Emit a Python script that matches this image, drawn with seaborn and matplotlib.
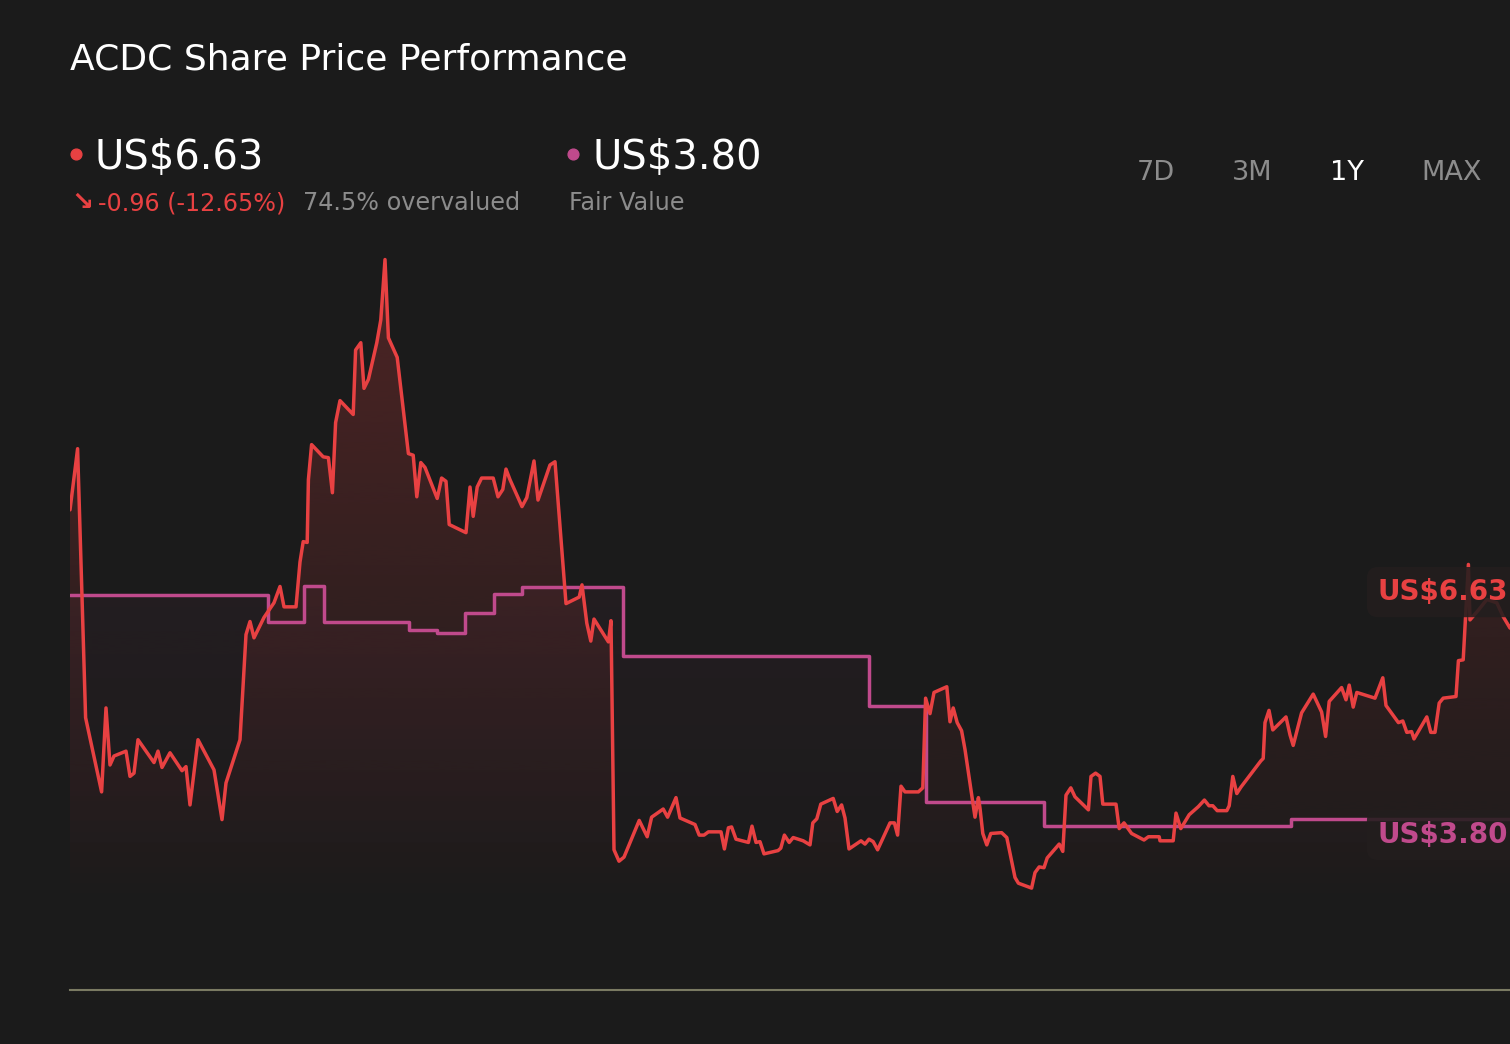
import numpy as np
import pandas as pd
import matplotlib
matplotlib.use('Agg')
import matplotlib.pyplot as plt
from matplotlib.patches import Polygon
import seaborn as sns

# price history (days since start, US$)
price_days = [0, 1.9, 3.9, 7.9, 9, 10, 11, 14, 15, 16, 17, 21, 22, 23, 25, 28, 29, 30, 32, 36,
              38, 39, 42.5, 44, 45, 46, 48.5, 51, 52.5, 53.5, 56.5, 57.5, 58.3, 59.3, 59.6, 60.4,
              63.3, 64.6, 65.6, 66.4, 67.5, 70.8, 71.4, 72.7, 73.5, 74.6, 76.7, 77.7, 78.75, 79.6,
              81.8, 84.6, 85.8, 86.7, 87.7, 88.75, 91.8, 92.9, 94, 94.8, 99, 100, 100.8, 101.8,
              102.9, 105.8, 107, 108.2, 109, 110, 113, 114.2, 116, 117, 120, 121.25, 124, 127.3,
              128, 129.2, 130.2, 131, 134.6, 135.25, 136, 137.25, 138.5, 142.3, 144.3, 145.4,
              148.3, 149.4, 151.5, 152.5, 156.25, 157.3, 158.5, 159.6, 162.75, 163.6, 164.6,
              165.4, 166.5, 169.6, 170.5, 171.5, 172.5, 173.5, 177, 177.7, 178.6, 179.8, 180.8,
              183.3, 185, 185.7, 186.7, 187.7, 190.8, 191.8, 192.9, 193.75, 194.75, 197.75,
              198.75, 199.75, 200.8, 201.9, 205, 206.1, 206.9, 207.75, 208.75, 212.1, 213.2,
              213.9, 215, 216, 219.2, 220, 220.8, 221.8, 222.9, 223.75, 226.25, 227.1, 227.5,
              228.2, 229.2, 230.2, 232.9, 234.2, 236.25, 237.1, 240.4, 241.25, 242.3, 243.5,
              244.3, 247.3, 248.2, 249, 250.2, 251.25, 254.6, 255.25, 256.4, 257.5, 258.2, 261.5,
              262.3, 263.5, 265.4, 268.5, 269.6, 272.3, 272.5, 275.8, 276.5, 277.7, 279.8, 282.1,
              283.6, 284.75, 285.7, 286.8, 289.2, 289.8, 290.7, 291.7, 292.75, 297.7, 298.3,
              298.75, 299.75, 300.7, 304, 305, 305.8, 307.9, 310.8, 312.9, 313.9, 314.8, 317.9,
              319, 319.8, 320.8, 321.7, 326.25, 328.2, 329, 332.1, 333.2, 334.2, 335.4, 336,
              339.2, 340.2, 341.25, 342.3, 343.3, 346.5, 347.1, 348.3, 349.6, 350, 352.1, 354.2,
              356.7, 358.3, 360, 364]
price_vals = [7.59, 8.34, 5.04, 4.13, 5.16, 4.46, 4.57, 4.63, 4.32, 4.36, 4.77, 4.49, 4.63, 4.43,
              4.61, 4.39, 4.44, 3.97, 4.77, 4.40, 3.79, 4.24, 4.77, 6.06, 6.22, 6.02, 6.27, 6.45,
              6.65, 6.40, 6.40, 6.95, 7.20, 7.19, 7.96, 8.39, 8.24, 8.23, 7.80, 8.66, 8.93, 8.76,
              9.55, 9.64, 9.08, 9.19, 9.64, 9.92, 10.66, 9.70, 9.46, 8.28, 8.26, 7.75, 8.17, 8.11,
              7.73, 7.98, 7.94, 7.41, 7.31, 7.87, 7.51, 7.87, 7.98, 7.98, 7.75, 7.84, 8.09, 7.96,
              7.63, 7.74, 8.19, 7.71, 8.14, 8.18, 6.44, 6.52, 6.67, 6.20, 5.98, 6.25, 5.97, 6.23,
              3.42, 3.28, 3.33, 3.78, 3.58, 3.82, 3.92, 3.82, 4.06, 3.81, 3.73, 3.60, 3.60, 3.64,
              3.64, 3.43, 3.69, 3.70, 3.55, 3.51, 3.71, 3.51, 3.52, 3.37, 3.41, 3.44, 3.60, 3.51,
              3.57, 3.53, 3.48, 3.75, 3.80, 3.98, 4.05, 3.89, 3.97, 3.81, 3.43, 3.53, 3.49, 3.55,
              3.52, 3.42, 3.75, 3.75, 3.60, 4.20, 4.13, 4.13, 4.18, 5.28, 5.09, 5.35, 5.42, 4.99,
              5.16, 4.98, 4.88, 4.65, 3.82, 4.06, 3.93, 3.62, 3.48, 3.62, 3.63, 3.57, 3.08, 3.01,
              2.95, 3.14, 3.21, 3.20, 3.32, 3.49, 3.40, 4.09, 4.18, 4.07, 3.91, 4.32, 4.36, 4.32,
              3.98, 3.98, 3.68, 3.75, 3.62, 3.54, 3.58, 3.58, 3.53, 3.53, 3.87, 3.68, 3.85, 3.95,
              4.03, 3.96, 3.96, 3.90, 3.90, 3.96, 4.32, 4.11, 4.19, 4.51, 4.54, 4.98, 5.13, 4.89,
              5.05, 4.83, 4.70, 5.10, 5.33, 5.11, 4.81, 5.24, 5.41, 5.26, 5.44, 5.17, 5.35, 5.28,
              5.53, 5.19, 4.98, 5.00, 4.86, 4.87, 4.78, 5.05, 4.86, 4.86, 5.22, 5.28, 5.30, 5.74,
              5.75, 6.92, 6.24, 6.36, 6.49, 6.45, 6.28, 6.14, 6.63]

# fair value estimate changes
fv_days = [0, 49.6, 58.5, 63.6, 84.8, 91.7, 98.75, 106, 113.1, 138.3, 199.8, 213.9, 243.5, 305.2, 364]
fv_vals = [6.55, 6.22, 6.65, 6.22, 6.11, 6.08, 6.32, 6.56, 6.64, 5.80, 5.18, 4.01, 3.71, 3.80, 3.80]

last_price = 6.63
fair_value = 3.80

RED = '#e84142'
PURPLE = '#c04a8c'
BG = '#1b1b1b'
GREY = '#8c8c8c'

df_price = pd.DataFrame({'day': price_days, 'price': price_vals})
df_fv = pd.DataFrame({'day': fv_days, 'value': fv_vals})

sns.set_theme(style='dark', rc={'figure.facecolor': BG, 'axes.facecolor': BG})
plt.rcParams['font.family'] = ['DejaVu Sans']

W, H = 1510, 1044
fig = plt.figure(figsize=(W / 100, H / 100), dpi=100)
ymin, ymax = 1.70, 10.90
ax = fig.add_axes([70 / W, (H - 990) / H, 1 - 70 / W, 750 / H])
ax.set_xlim(0, 360)
ax.set_ylim(ymin, ymax)

# gradient fill under a line
def gradient_fill(days, vals, color, a_top, lo, hi, steps=False):
    if steps:
        xs, ys = [], []
        for i in range(len(days)):
            if i > 0:
                xs.append(days[i]); ys.append(vals[i - 1])
            xs.append(days[i]); ys.append(vals[i])
    else:
        xs, ys = list(days), list(vals)
    verts = list(zip(xs, ys)) + [(xs[-1], ymin), (xs[0], ymin)]
    patch = Polygon(verts, closed=True, facecolor='none', edgecolor='none')
    ax.add_patch(patch)
    rgb = matplotlib.colors.to_rgb(color)
    grad = np.zeros((256, 1, 4))
    grad[..., 0], grad[..., 1], grad[..., 2] = rgb
    grad[:, 0, 3] = np.linspace(0, a_top, 256)
    im = ax.imshow(grad, extent=[0, 364, lo, hi], origin='lower', aspect='auto',
                   interpolation='bicubic', zorder=1)
    im.set_clip_path(patch)

gradient_fill(fv_days, fv_vals, PURPLE, 0.055, 2.62, 6.7, steps=True)
gradient_fill(price_days, price_vals, RED, 0.25, 2.62, 10.66)

sns.lineplot(data=df_fv, x='day', y='value', ax=ax, color=PURPLE, lw=2.5,
             drawstyle='steps-post', zorder=3)
sns.lineplot(data=df_price, x='day', y='price', ax=ax, color=RED, lw=2.5, zorder=4)

ax.set_xlim(0, 360)
ax.set_ylim(ymin, ymax)
ax.set_xlabel('')
ax.set_ylabel('')
ax.set_xticks([])
ax.set_yticks([])
for s in ['top', 'left', 'right']:
    ax.spines[s].set_visible(False)
ax.spines['bottom'].set_color('#7a7a62')
ax.spines['bottom'].set_linewidth(1.5)

# end labels
box = dict(boxstyle='round,pad=0.4', fc='#231e1e', ec='none', alpha=0.88)
ax.annotate(f'US${last_price:.2f}', xy=(327, last_price), xytext=(0, -4),
            textcoords='offset pixels', va='center', ha='left', color=RED,
            fontsize=20, fontweight='bold', zorder=6, annotation_clip=False, bbox=box)
ax.annotate(f'US${fair_value:.2f}', xy=(327, fair_value), xytext=(0, -16),
            textcoords='offset pixels', va='center', ha='left', color=PURPLE,
            fontsize=20, fontweight='bold', zorder=6, annotation_clip=False, bbox=box)

# header in pixel coordinates
top = fig.add_axes([0, 0, 1, 1], facecolor='none')
top.set_xlim(0, W)
top.set_ylim(H, 0)
top.axis('off')

top.text(70, 69, 'ACDC Share Price Performance', color='white', fontsize=26, va='baseline')
top.scatter([76], [154], s=60, color=RED, zorder=5)
top.scatter([573], [154], s=60, color=PURPLE, zorder=5)
top.text(94, 169, f'US${last_price:.2f}', color='white', fontsize=28.8, va='baseline')
top.text(593, 169, f'US${fair_value:.2f}', color='white', fontsize=28.8, va='baseline')
top.text(71, 210, '↘', color=RED, fontsize=19, fontweight='bold', va='baseline')
top.text(98, 210, '-0.96 (-12.65%)', color=RED, fontsize=17.2, va='baseline')
top.text(303, 210, '74.5% overvalued', color=GREY, fontsize=17.2, va='baseline')
top.text(569, 210, 'Fair Value', color=GREY, fontsize=17.2, va='baseline')

for label, xc in zip(['7D', '3M', '1Y', 'MAX'], [1156, 1252, 1347, 1452]):
    top.text(xc, 180, label, color='white' if label == '1Y' else GREY,
             fontsize=19.5, ha='center', va='baseline')

fig.savefig('out.png', dpi=100, facecolor=BG)
